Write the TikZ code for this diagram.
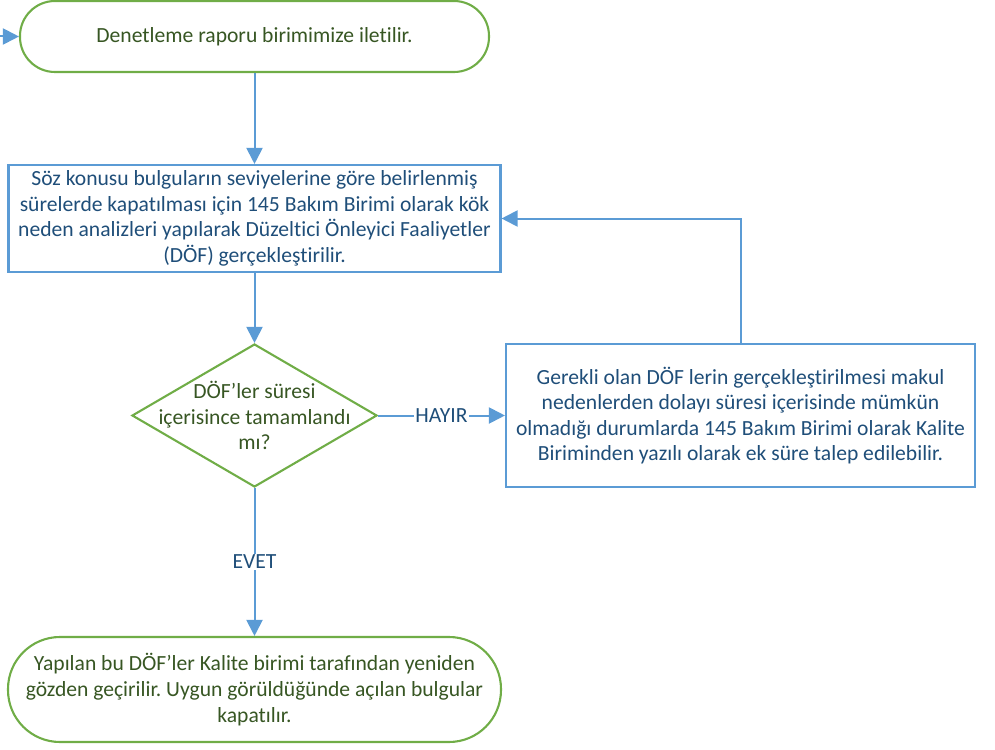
\documentclass[tikz,border=0pt]{standalone}
\usepackage{fontspec}
\setmainfont{Carlito}[Ligatures={NoCommon}]
\usetikzlibrary{shapes.geometric,arrows.meta}
\frenchspacing
\definecolor{lgreen}{HTML}{70AD47}
\definecolor{dgreen}{HTML}{375623}
\definecolor{lblue}{HTML}{5B9BD5}
\definecolor{dblue}{HTML}{1F4E79}
\tikzset{
  txt/.style={font={\fontsize{21.6}{25.6}\selectfont}, align=center, inner sep=0pt},
  term/.style={txt, draw=lgreen, line width=2.1pt, rounded corners=#1, text=dgreen},
  procbox/.style={txt, draw=lblue, line width=2.1pt, text=dblue},
  dia/.style={diamond, draw=lgreen, line width=2.1pt, inner sep=0pt},
  conn/.style={draw=lblue, line width=2pt, -{Triangle[length=16pt,width=16pt]}},
  lab/.style={txt, fill=white, text=dblue, inner sep=1pt}
}
\begin{document}
\begin{tikzpicture}[x=1pt,y=-1pt]
\useasboundingbox (0,0) rectangle (995,749);
\node[term=35pt, minimum width=469pt, minimum height=71pt] (top) at (254.5,36.5) {Denetleme raporu birimimize iletilir.};
\node[procbox, minimum width=492pt, minimum height=107pt] (b1) at (254.5,218.5) {Söz konusu bulguların seviyelerine göre belirlenmiş\\sürelerde kapatılması için 145 Bakım Birimi olarak kök\\neden analizleri yapılarak Düzeltici Önleyici Faaliyetler\\(DÖF) gerçekleştirilir.};
\node[dia, minimum width=245pt, minimum height=143pt] (d) at (254.5,415.5) {};
\node[txt, text=dgreen] (dt) at (d.center) {DÖF’ler süresi\\içerisince tamamlandı\\mı?};
\node[procbox, minimum width=469pt, minimum height=143pt] (b2) at (740.5,415.5) {Gerekli olan DÖF lerin gerçekleştirilmesi makul\\nedenlerden dolayı süresi içerisinde mümkün\\olmadığı durumlarda 145 Bakım Birimi olarak Kalite\\Biriminden yazılı olarak ek süre talep edilebilir.};
\node[term=52pt, minimum width=493pt, minimum height=105pt] (bot) at (254.5,689.5) {Yapılan bu DÖF’ler Kalite birimi tarafından yeniden\\gözden geçirilir. Uygun görüldüğünde açılan bulgular\\kapatılır.};
\coordinate (in) at (0,36.5);
\draw[conn] (in) -- (top.west);
\draw[conn] (top.south) -- (b1.north);
\draw[conn] (b1.south) -- (d.north);
\draw[conn] (d.east) -- node[lab]{HAYIR} (b2.west);
\draw[conn] (b2.north) |- (b1.east);
\draw[conn] (d.south) -- node[lab]{EVET} (bot.north);
\end{tikzpicture}
\end{document}
